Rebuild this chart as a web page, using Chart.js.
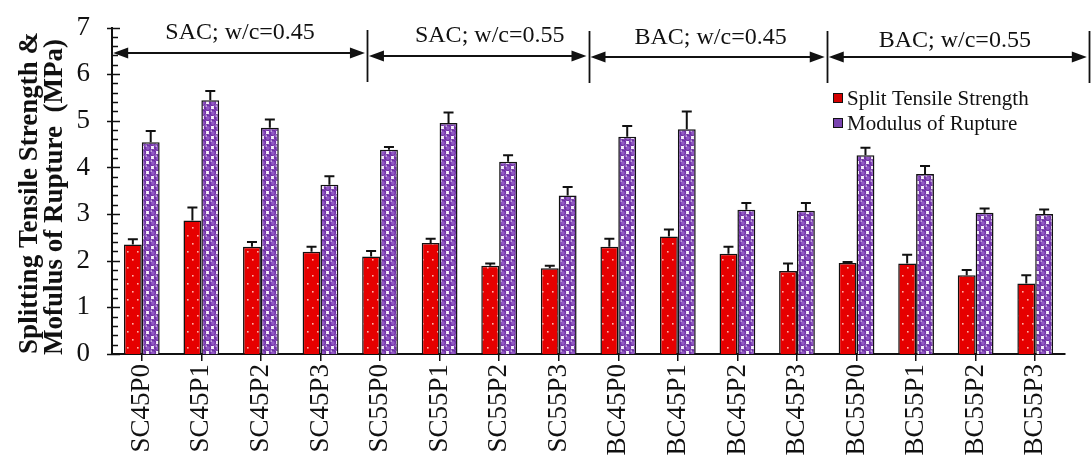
<!DOCTYPE html>
<html lang="en">
<head>
    <meta charset="UTF-8">
    <title>Splitting Tensile Strength and Modulus of Rupture</title>
    <script src="https://cdn.jsdelivr.net/npm/chart.js"></script>
    <style>
        html, body { margin: 0; padding: 0; background: #fff; }
        #wrap { width: 1091px; height: 464px; position: relative; }
    </style>
</head>
<body>
<div id="wrap"><canvas id="strengthChart"></canvas></div>

<script>
// Mix designations
const mixes = ['SC45P0', 'SC45P1', 'SC45P2', 'SC45P3', 'SC55P0', 'SC55P1', 'SC55P2', 'SC55P3',
               'BC45P0', 'BC45P1', 'BC45P2', 'BC45P3', 'BC55P0', 'BC55P1', 'BC55P2', 'BC55P3'];

// Split tensile strength (MPa) and upper error
const splitTensile    = [2.35, 2.86, 2.30, 2.19, 2.09, 2.38, 1.89, 1.84, 2.30, 2.52, 2.15, 1.78, 1.95, 1.94, 1.69, 1.51];
const splitTensileErr = [0.11, 0.28, 0.10, 0.11, 0.12, 0.09, 0.05, 0.05, 0.17, 0.15, 0.15, 0.16, 0.02, 0.19, 0.11, 0.18];

// Modulus of rupture (MPa) and upper error
const rupture    = [4.54, 5.44, 4.85, 3.63, 4.38, 4.95, 4.12, 3.40, 4.66, 4.82, 3.09, 3.07, 4.26, 3.86, 3.03, 3.00];
const ruptureErr = [0.24, 0.20, 0.18, 0.18, 0.06, 0.23, 0.14, 0.18, 0.23, 0.38, 0.15, 0.17, 0.16, 0.17, 0.09, 0.10];

// Aggregate / water-cement groups along the top, edges in category units
const groupLabels = ['SAC; w/c=0.45', 'SAC; w/c=0.55', 'BAC; w/c=0.45', 'BAC; w/c=0.55'];
const groupEdges  = [-0.48, 3.78, 7.5, 11.5, 15.9];

const yTicks = [0, 1, 2, 3, 4, 5, 6, 7];

const SERIF = '"Liberation Serif", "Times New Roman", serif';
const INK = '#111';

// red fill with small light dots
function dotPattern() {
    const c = document.createElement('canvas');
    c.width = 10; c.height = 16;
    const g = c.getContext('2d');
    g.fillStyle = '#e60000';
    g.fillRect(0, 0, 10, 16);
    g.fillStyle = '#ffb0a8';
    g.fillRect(2, 3, 1.6, 1.6);
    g.fillRect(7, 11, 1.6, 1.6);
    return g.createPattern(c, 'repeat');
}

// staggered purple spheres, pale squares left between them
function spherePattern() {
    const s = 10;
    const c = document.createElement('canvas');
    c.width = s; c.height = s;
    const g = c.getContext('2d');
    g.fillStyle = '#f8eefc';
    g.fillRect(0, 0, s, s);
    const centres = [];
    for (let i = -1; i <= 1; i++) {
        for (let j = -1; j <= 1; j++) {
            centres.push([2.5 + s * i, 2.5 + s * j], [7.5 + s * i, 7.5 + s * j]);
        }
    }
    centres.forEach(([cx, cy]) => {
        g.fillStyle = '#6f30a6';
        g.beginPath(); g.arc(cx, cy, 3.6, 0, Math.PI * 2); g.fill();
    });
    centres.forEach(([cx, cy]) => {
        g.fillStyle = '#9259c4';
        g.beginPath(); g.arc(cx + 0.4, cy + 0.5, 1.9, 0, Math.PI * 2); g.fill();
        g.fillStyle = 'rgba(255,255,255,0.8)';
        g.beginPath(); g.arc(cx - 1.3, cy - 1.4, 0.8, 0, Math.PI * 2); g.fill();
    });
    return g.createPattern(c, 'repeat');
}

const redFill = dotPattern();
const purpleFill = spherePattern();

// upward-only error bars with caps
const errorBars = {
    id: 'errorBars',
    afterDatasetsDraw(chart) {
        const { ctx } = chart;
        const y = chart.scales.y;
        ctx.save();
        ctx.strokeStyle = INK;
        ctx.lineWidth = 2;
        chart.data.datasets.forEach((ds, di) => {
            chart.getDatasetMeta(di).data.forEach((bar, i) => {
                const top = y.getPixelForValue(ds.data[i] + ds.errUp[i]);
                ctx.beginPath();
                ctx.moveTo(bar.x, bar.y);
                ctx.lineTo(bar.x, top);
                ctx.moveTo(bar.x - 5, top);
                ctx.lineTo(bar.x + 5, top);
                ctx.stroke();
            });
        });
        ctx.restore();
    }
};

// y axis tick marks (majors cross the axis, minors inside), title, group arrows and legend
const decorations = {
    id: 'decorations',
    afterDraw(chart) {
        const { ctx, chartArea } = chart;
        const x = chart.scales.x;
        const y = chart.scales.y;
        const x0 = chartArea.left;
        ctx.save();

        ctx.strokeStyle = INK;
        ctx.lineWidth = 1.5;
        for (let k = 0; k <= 35; k++) {
            const py = Math.round(y.getPixelForValue(k / 5)) + 0.5;
            ctx.beginPath();
            if (k % 5 === 0) {
                ctx.moveTo(x0 - 5, py); ctx.lineTo(x0 + 8, py);
            } else {
                ctx.moveTo(x0, py); ctx.lineTo(x0 + 6, py);
            }
            ctx.stroke();
        }

        // axis title, two rotated lines
        ctx.fillStyle = INK;
        ctx.font = 'bold 27px ' + SERIF;
        ctx.textAlign = 'center';
        ctx.textBaseline = 'middle';
        [['Splitting Tensile Strength &', 30, 193], ['Mofulus of Rupture  (MPa)', 55, 197]].forEach(([t, tx, ty]) => {
            ctx.save();
            ctx.translate(tx, ty);
            ctx.rotate(-Math.PI / 2);
            ctx.fillText(t, 0, 0);
            ctx.restore();
        });

        // group arrows along the top
        const arrowY = [53, 56, 57, 57];
        const textY = [39, 42, 44, 47];
        const textShift = [0, 12, 3, -3];
        const head = (tipX, tipY, dir) => {
            ctx.beginPath();
            ctx.moveTo(tipX, tipY);
            ctx.lineTo(tipX - dir * 15, tipY - 5.5);
            ctx.lineTo(tipX - dir * 15, tipY + 5.5);
            ctx.closePath();
            ctx.fill();
        };
        ctx.lineWidth = 2;
        ctx.font = '24px ' + SERIF;
        ctx.textBaseline = 'alphabetic';
        groupLabels.forEach((label, g) => {
            const xa = x.getPixelForValue(groupEdges[g]);
            const xb = x.getPixelForValue(groupEdges[g + 1]);
            const ay = arrowY[g];
            const left = g === 0 ? xa : xa + 2;
            const right = xb - 2;
            ctx.beginPath();
            ctx.moveTo(left + 4, ay);
            ctx.lineTo(right - 4, ay);
            ctx.stroke();
            head(left, ay, -1);
            head(right, ay, 1);
            ctx.fillText(label, (xa + xb) / 2 + textShift[g], textY[g]);
        });
        ctx.lineWidth = 1.8;
        groupEdges.slice(1).forEach((e, i) => {
            const px = Math.round(x.getPixelForValue(e)) + 0.5;
            const ay = arrowY[Math.min(i + 1, 3)];
            ctx.beginPath();
            ctx.moveTo(px, ay - 26);
            ctx.lineTo(px, ay + 26);
            ctx.stroke();
        });

        // legend
        ctx.font = '21px ' + SERIF;
        ctx.textAlign = 'left';
        ctx.textBaseline = 'middle';
        chart.data.datasets.forEach((ds, i) => {
            const ly = 98 + i * 25;
            ctx.fillStyle = ds.legendSwatch;
            ctx.fillRect(833, ly - 5, 10, 10);
            ctx.strokeStyle = INK;
            ctx.lineWidth = 1;
            ctx.strokeRect(833.5, ly - 4.5, 9, 9);
            ctx.fillStyle = INK;
            ctx.fillText(ds.label, 847, ly + 1);
        });

        ctx.restore();
    }
};

new Chart(document.getElementById('strengthChart'), {
    type: 'bar',
    data: {
        labels: mixes,
        datasets: [
            {
                label: 'Split Tensile Strength',
                data: splitTensile,
                errUp: splitTensileErr,
                backgroundColor: redFill,
                legendSwatch: '#d40000',
                borderColor: INK,
                borderWidth: 1.5,
                categoryPercentage: 0.6,
                barPercentage: 1.0
            },
            {
                label: 'Modulus of Rupture',
                data: rupture,
                errUp: ruptureErr,
                backgroundColor: purpleFill,
                legendSwatch: '#7a44b0',
                borderColor: INK,
                borderWidth: 1.5,
                categoryPercentage: 0.6,
                barPercentage: 1.0
            }
        ]
    },
    options: {
        responsive: true,
        maintainAspectRatio: false,
        animation: false,
        devicePixelRatio: 1,
        layout: { padding: { top: 18, right: 26, left: 0, bottom: 0 } },
        plugins: {
            legend: { display: false },
            tooltip: { enabled: false }
        },
        scales: {
            x: {
                grid: {
                    display: true,
                    drawOnChartArea: false,
                    offset: false,
                    color: INK,
                    lineWidth: 1.5,
                    tickLength: 7
                },
                border: { display: true, color: INK, width: 2 },
                ticks: {
                    color: INK,
                    font: { family: SERIF, size: 27 },
                    maxRotation: 90,
                    minRotation: 90,
                    autoSkip: false,
                    padding: 3
                },
                afterFit(scale) { scale.height = 110; }
            },
            y: {
                min: 0,
                max: 7,
                afterBuildTicks(scale) { scale.ticks = yTicks.map(v => ({ value: v })); },
                grid: { display: false },
                border: { display: true, color: INK, width: 2 },
                ticks: {
                    color: INK,
                    font: { family: SERIF, size: 27, lineHeight: 1 },
                    padding: 14
                },
                afterFit(scale) { scale.width = 112; }
            }
        }
    },
    plugins: [errorBars, decorations]
});
</script>
</body>
</html>
